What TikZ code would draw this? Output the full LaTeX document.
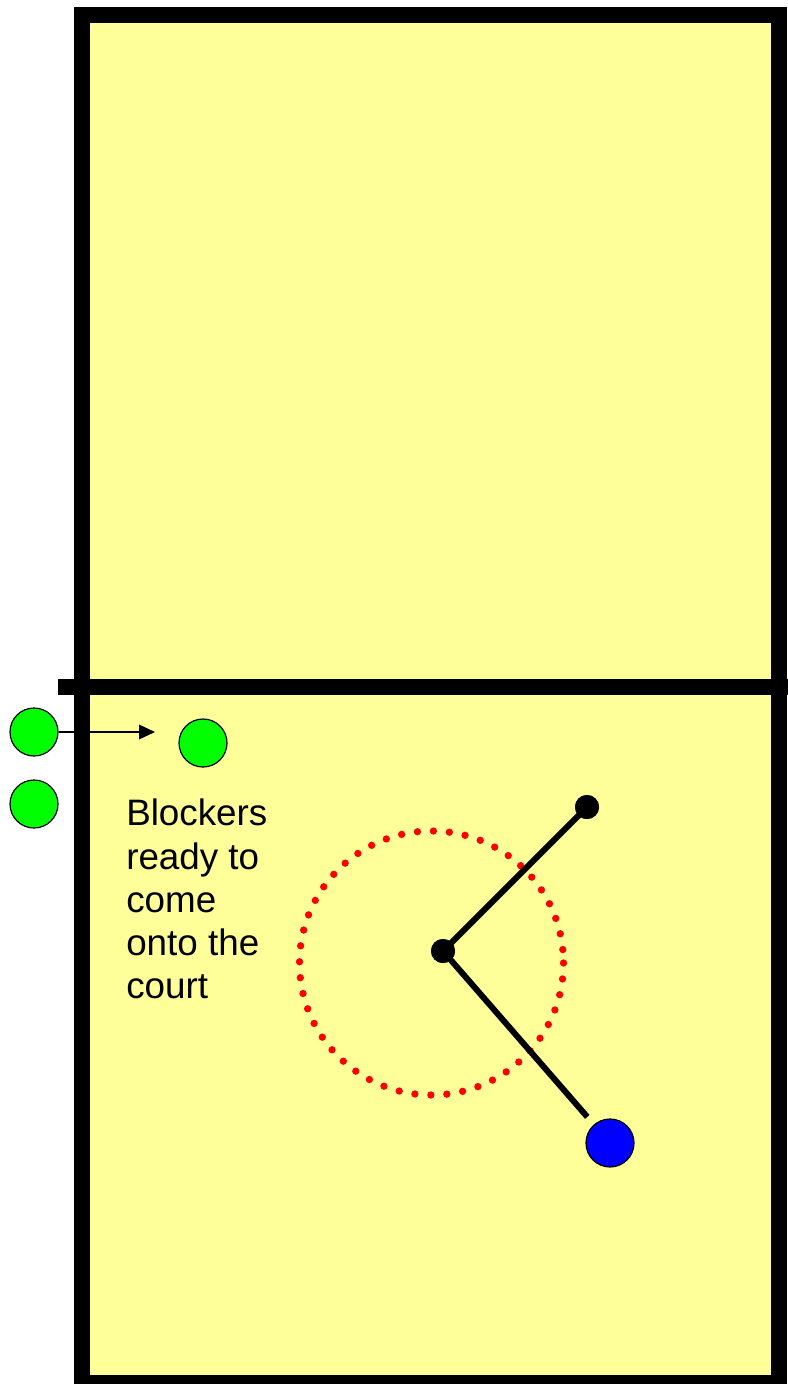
\documentclass[tikz,border=0pt]{standalone}
\usepackage{fontspec}
\setmainfont{Liberation Sans}
\usetikzlibrary{arrows.meta}
\definecolor{courtyellow}{RGB}{255,255,153}
\definecolor{blockgreen}{RGB}{0,255,0}
\definecolor{setterblue}{RGB}{0,0,255}
\definecolor{pathred}{RGB}{255,0,0}
\begin{document}
\begin{tikzpicture}[x=0.75pt,y=0.75pt,yscale=-1,xscale=1,
		player/.style={circle, draw=black, line width=0.9pt, minimum size=36pt, inner sep=0pt},
		joint/.style={circle, fill=black, minimum size=18pt, inner sep=0pt}]
	\useasboundingbox (0,0) rectangle (788,1384);
	%Shape: Rectangle [id:court]
	\draw [fill=courtyellow, line width=12pt] (82,14.7) rectangle (778.5,1383) ;
	%Straight Lines [id:net]
	\draw [line width=12pt] (58,687) -- (788,687) ;
	%Shape: Circle [id:range]
	\draw [color=pathred, line width=5.5pt, line cap=round, dash pattern=on 0pt off 12pt] (431.5,963) circle [radius=132] ;
	%Players
	\node (g1) [player, fill=blockgreen] at (34,732) {};
	\node (g2) [player, fill=blockgreen] at (34,804) {};
	\node (g3) [player, fill=blockgreen] at (203,743) {};
	\node (s) [player, fill=setterblue] at (610,1143) {};
	\coordinate (tip) at (155,732);
	%Straight Lines [id:arrow]
	\draw [line width=1.1pt, -{Triangle[length=12pt,width=11pt]}] (g1) -- (tip) ;
	%Straight Lines [id:run]
	\node (c) [joint] at (443,951) {};
	\node (t) [joint] at (587,807) {};
	\draw [line width=4.5pt] (c.center) -- (t.center) ;
	\draw [line width=4.5pt, shorten >=7.5pt] (c.center) -- (s) ;
	\node (c) [joint] at (443,951) {};
	\node (t) [joint] at (587,807) {};
	\node (txt) [anchor=north west, inner sep=0pt, align=left, font=\fontsize{27.6}{32.3}\selectfont] at (126,799) {Blockers\\ready to\\come\\onto the\\court};
\end{tikzpicture}
\end{document}
